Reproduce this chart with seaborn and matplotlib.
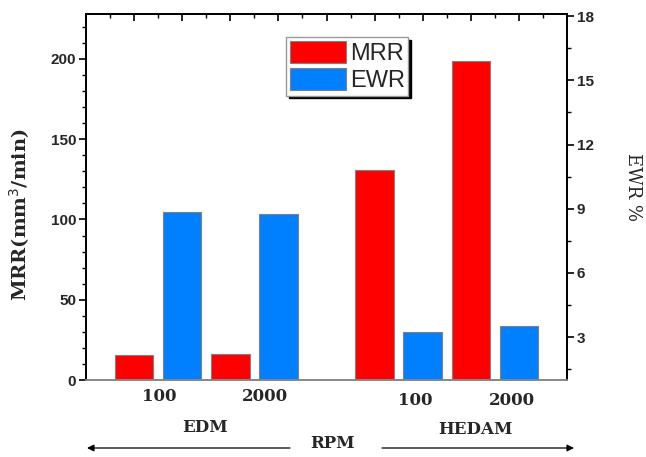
import numpy as np
import pandas as pd
import matplotlib
matplotlib.use("Agg")
import matplotlib.pyplot as plt
import seaborn as sns
from matplotlib.ticker import MultipleLocator, NullFormatter

# ---------------- data ----------------
processes = ["EDM", "EDM", "HEDAM", "HEDAM"]
rpm_labels = ["100", "2000", "100", "2000"]
mrr_values = [15.5, 16.5, 131.0, 199.0]     # mm^3/min (left axis)
ewr_values = [8.85, 8.75, 3.25, 3.5]        # % (right axis)
series_names = ["MRR", "EWR"]
group_names = ["EDM", "HEDAM"]

# slot layout of the bars (Origin-style grouped bars with a gap)
mrr_pos = [0, 2, 5, 7]
ewr_pos = [1, 3, 6, 8]
label_pos = [0.52, 2.72, 5.85, 7.86]

red = "#FF0000"
blue = "#0080FF"

sns.set_theme(style="white")
plt.rcParams["font.family"] = ["DejaVu Sans"]

fig = plt.figure(figsize=(6.46, 4.57), dpi=100)
L, R, T, B = 86, 567, 14, 380
W, H = 646, 457
ax = fig.add_axes([L / W, 1 - B / H, (R - L) / W, (B - T) / H])
ax2 = ax.twinx()

df_mrr = pd.DataFrame({"pos": mrr_pos, "val": mrr_values})
df_ewr = pd.DataFrame({"pos": ewr_pos, "val": ewr_values})

sns.barplot(data=df_mrr, x="pos", y="val", native_scale=True, width=0.4,
            color=red, saturation=1, edgecolor="#808080", linewidth=0.8,
            ax=ax, label=series_names[0])
sns.barplot(data=df_ewr, x="pos", y="val", native_scale=True, width=0.4,
            color=blue, saturation=1, edgecolor="#808080", linewidth=0.8,
            ax=ax2, label=series_names[1])

for a in (ax, ax2):
    a.set_xlim(-1, 9)
    a.set_xlabel("")
    a.set_ylabel("")
    a.grid(False)

ax.set_ylim(0, 228)
ax2.set_ylim(1.0, 18.1)

# spines
for a in (ax, ax2):
    for s in ["left", "right", "top"]:
        a.spines[s].set_color("black")
        a.spines[s].set_linewidth(1.3)
    a.spines["bottom"].set_color("#888888")
    a.spines["bottom"].set_linewidth(1.3)

tick_font = dict(family="Liberation Sans", weight="bold", size=11)

# left axis ticks
ax.yaxis.set_major_locator(MultipleLocator(50))
ax.yaxis.set_minor_locator(MultipleLocator(10))
ax.tick_params(axis="y", which="major", direction="out", length=5, width=1.2,
               color="black", left=True, right=False, pad=2)
ax.tick_params(axis="y", which="minor", direction="out", length=3, width=1.0,
               color="black", left=True, right=False)
for lab in ax.get_yticklabels():
    lab.set_fontproperties(matplotlib.font_manager.FontProperties(**tick_font))

# right axis ticks
ax2.yaxis.set_major_locator(MultipleLocator(3))
ax2.yaxis.set_minor_locator(MultipleLocator(1.5))
ax2.yaxis.set_minor_formatter(NullFormatter())
ax2.set_yticks([3, 6, 9, 12, 15, 18])
ax2.tick_params(axis="y", which="major", direction="out", length=5, width=1.2,
                color="black", right=True, left=False, pad=2)
ax2.tick_params(axis="y", which="minor", direction="out", length=3, width=1.0,
                color="black", right=True, left=False)
for lab in ax2.get_yticklabels():
    lab.set_fontproperties(matplotlib.font_manager.FontProperties(**tick_font))

# top ticks (inward), no bottom ticks
ax.xaxis.set_major_locator(MultipleLocator(1))
ax.xaxis.set_minor_locator(MultipleLocator(0.5))
ax.tick_params(axis="x", which="major", top=True, bottom=False, direction="in",
               length=5, width=1.2, color="black", labelbottom=False, labeltop=False)
ax.tick_params(axis="x", which="minor", top=True, bottom=False, direction="in",
               length=3, width=1.0, color="black")
ax2.tick_params(axis="x", which="both", top=False, bottom=False,
                labelbottom=False, labeltop=False)

# category (rpm) labels under the bars
serif_b = dict(family="DejaVu Serif", weight="bold", size=12)
label_y = [-0.045, -0.045, -0.055, -0.055]
for xp, txt, yy in zip(label_pos, rpm_labels, label_y):
    ax.text(xp, yy, txt, transform=ax.get_xaxis_transform(), ha="center",
            va="center", **serif_b)

# axis labels
ax.set_ylabel("MRR(mm$^3$/min)", family="DejaVu Serif", weight="bold", size=14)
ax.yaxis.set_label_coords(-0.112, 0.451)
ax2.set_ylabel("EWR %", family="DejaVu Serif", size=13, rotation=-90,
               va="center", ha="center")
ax2.yaxis.set_label_coords(1.137, 0.527)

# group labels and arrows
fig.text(205 / W, 1 - 428 / H, group_names[0], ha="center", va="center", **serif_b)
fig.text(475 / W, 1 - 430 / H, group_names[1], ha="center", va="center", **serif_b)
fig.text(332 / W, 1 - 443 / H, "RPM", ha="center", va="center", **serif_b)
arrow_kw = dict(arrowstyle="-|>", color="black", lw=0.9, mutation_scale=10,
                shrinkA=0, shrinkB=0)
fig.add_artist(matplotlib.patches.FancyArrowPatch(
    (290 / W, 1 - 448 / H), (87 / W, 1 - 448 / H),
    transform=fig.transFigure, **arrow_kw))
fig.add_artist(matplotlib.patches.FancyArrowPatch(
    (382 / W, 1 - 448 / H), (574 / W, 1 - 448 / H),
    transform=fig.transFigure, **arrow_kw))

# legend
h1, l1 = ax.get_legend_handles_labels()
h2, l2 = ax2.get_legend_handles_labels()
if ax.get_legend() is not None:
    ax.get_legend().remove()
leg = ax2.legend(h1 + h2, l1 + l2, loc="upper left",
                 bbox_to_anchor=(286 / W, 1 - 37 / H), bbox_transform=fig.transFigure,
                 prop=dict(family="Liberation Sans", size=17),
                 handlelength=2.4, handleheight=1.1, labelspacing=0.12,
                 borderpad=0.15, handletextpad=0.15, borderaxespad=0,
                 fancybox=False, framealpha=1, edgecolor="#999999",
                 shadow={"color": "black", "alpha": 1})
leg.get_frame().set_linewidth(1.0)

fig.savefig("out.png", dpi=100)
